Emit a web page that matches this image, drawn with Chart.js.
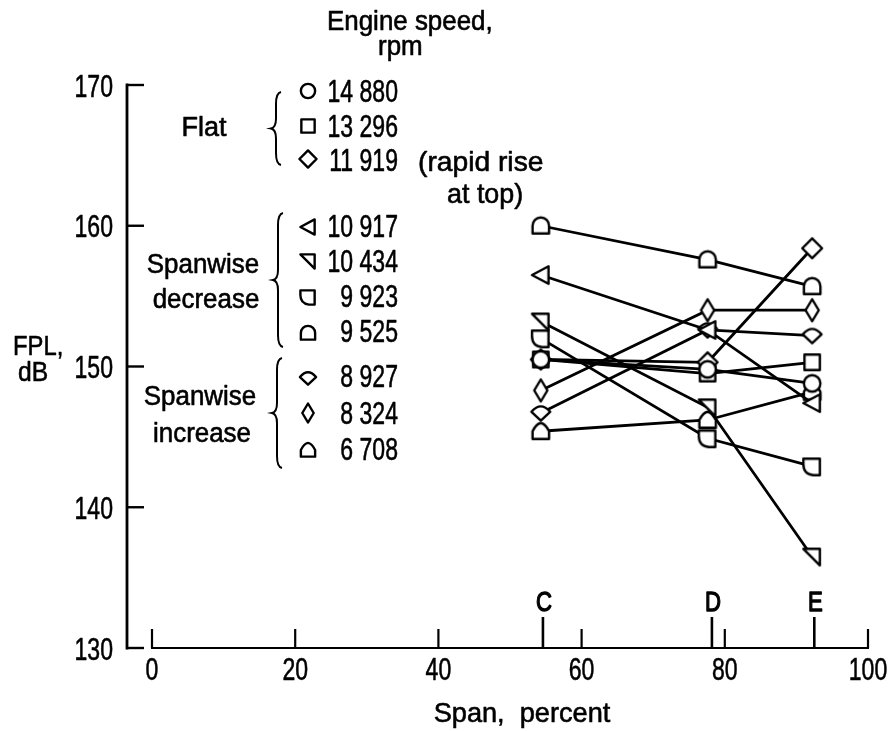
<!DOCTYPE html>
<html><head><meta charset="utf-8">
<script src="https://cdn.jsdelivr.net/npm/chart.js@4.4.1/dist/chart.umd.min.js"></script>
<style>html,body{margin:0;padding:0;background:#fff;}</style>
</head><body>
<canvas id="c" width="894" height="731" style="display:block;width:894px;height:731px"></canvas>
<script>
// ---- data ----
const stations = ['C', 'D', 'E'];
const stationSpan = [54.6, 78.2, 92.5];      // span position of station ticks, percent
const pointSpan = [54.3, 77.6, 92.2];        // span position of measurements, percent
const speeds = ['14 880', '13 296', '11 919', '10 917', '10 434', '9 923', '9 525', '8 927', '8 324', '6 708'];
const fpl_14880 = [150.5, 149.8, 148.8];
const fpl_13296 = [150.5, 149.5, 150.3];
const fpl_11919 = [150.5, 150.3, 158.4];
const fpl_10917 = [156.5, 152.6, 147.4];
const fpl_10434 = [153.2, 147.1, 136.5];
const fpl_9923  = [152.0, 144.9, 142.9];
const fpl_9525  = [160.0, 157.6, 155.7];
const fpl_8927  = [146.7, 152.6, 152.2];
const fpl_8324  = [148.3, 154.0, 154.0];
const fpl_6708  = [145.4, 146.2, 148.2];
const xTicks = [0, 20, 40, 60, 80, 100];
const yTicks = [130, 140, 150, 160, 170];
const groupLabels = [['Flat'], ['Spanwise', 'decrease'], ['Spanwise', 'increase']];
const xTitle = 'Span,  percent';
const yTitle = ['FPL,', 'dB'];
const legendTitle = ['Engine speed,', 'rpm'];
const note = ['(rapid rise', 'at top)'];

const series = [fpl_14880, fpl_13296, fpl_11919, fpl_10917, fpl_10434, fpl_9923, fpl_9525, fpl_8927, fpl_8324, fpl_6708];
const shapes = ['circle', 'square', 'diamond', 'triLeft', 'triCorner', 'quarter', 'arch', 'shield', 'tallDiamond', 'house'];
const drawOrder = [3, 4, 6, 1, 0, 5, 2, 7, 8, 9]; // lower number drawn on top

const FF = '"Liberation Sans","Arimo",Arial,sans-serif';

function txt(ctx, s, x, y, size, sx, align, sw) {
  ctx.save();
  ctx.font = size + 'px ' + FF;
  ctx.textAlign = align || 'left';
  ctx.textBaseline = 'alphabetic';
  ctx.translate(x, y);
  ctx.scale(sx, 1);
  ctx.fillStyle = '#000';
  ctx.fillText(s, 0, 0);
  ctx.lineWidth = sw || 0.6;
  ctx.strokeStyle = '#000';
  ctx.lineJoin = 'round';
  ctx.strokeText(s, 0, 0);
  ctx.restore();
}

function shapePath(ctx, kind, cx, cy, k) {
  const P = (dx, dy) => [cx + dx * k, cy + dy * k];
  ctx.beginPath();
  const m = (dx, dy) => ctx.moveTo(...P(dx, dy));
  const l = (dx, dy) => ctx.lineTo(...P(dx, dy));
  const q = (ax, ay, bx, by) => ctx.quadraticCurveTo(...P(ax, ay), ...P(bx, by));
  switch (kind) {
    case 'circle': ctx.arc(cx, cy, 7.5 * k, 0, Math.PI * 2); break;
    case 'square': m(-7, -7); l(7, -7); l(7, 7); l(-7, 7); ctx.closePath(); break;
    case 'diamond': m(0, -9); l(9, 0); l(0, 9); l(-9, 0); ctx.closePath(); break;
    case 'triLeft': m(-8, 0); l(7, -8); l(7, 8); ctx.closePath(); break;
    case 'triCorner': m(-8, -7); l(7, -7); l(7, 8); ctx.closePath(); break;
    case 'quarter': m(-8, -7); l(7, -7); l(7, 8); l(1, 8); q(-8, 7, -8, -2); ctx.closePath(); break;
    case 'arch': m(-7.5, 7); l(-7.5, 0); ctx.arc(cx, cy, 7.5 * k, Math.PI, 0); l(7.5, 7); ctx.closePath(); break;
    case 'shield': m(-8.5, -1); q(0, -11, 8.5, -1); l(0, 7); ctx.closePath(); break;
    case 'tallDiamond': m(0, -10); l(6, 0); l(0, 10); l(-6, 0); ctx.closePath(); break;
    case 'house': m(-7.5, 7); l(-7.5, 0); q(-4, -7, 0, -7.5); q(4, -7, 7.5, 0); l(7.5, 7); ctx.closePath(); break;
  }
}
function drawShape(ctx, kind, cx, cy, k) {
  ctx.save();
  shapePath(ctx, kind, cx, cy, k);
  ctx.fillStyle = '#fff'; ctx.fill();
  ctx.lineWidth = 2.4; ctx.strokeStyle = '#000'; ctx.lineJoin = 'round'; ctx.stroke();
  ctx.restore();
}
function makeMarker(kind) {
  const cv = document.createElement('canvas');
  cv.width = 30; cv.height = 30;
  drawShape(cv.getContext('2d'), kind, 15, 15, 1.1);
  return cv;
}

const datasets = series.map((vals, i) => ({
  label: speeds[i] + ' rpm',
  data: vals.map((v, j) => ({ x: pointSpan[j], y: v })),
  borderColor: '#000',
  borderWidth: 2.8,
  pointStyle: makeMarker(shapes[i]),
  pointRadius: 9,
  order: drawOrder[i],
  tension: 0,
  fill: false
}));

function brace(ctx, x, y0, y1) {
  const ym = (y0 + y1) / 2, w = 5;
  ctx.beginPath();
  ctx.moveTo(x + w, y0);
  ctx.quadraticCurveTo(x, y0 + 1, x, y0 + 12);
  ctx.lineTo(x, ym - 10);
  ctx.quadraticCurveTo(x, ym - 1, x - w, ym);
  ctx.quadraticCurveTo(x, ym + 1, x, ym + 10);
  ctx.lineTo(x, y1 - 12);
  ctx.quadraticCurveTo(x, y1 - 1, x + w, y1);
  ctx.stroke();
}

const decor = {
  id: 'decor',
  beforeDatasetsDraw(chart) {
    const ctx = chart.ctx, xs = chart.scales.x, ys = chart.scales.y;
    ctx.save();
    ctx.strokeStyle = '#000'; ctx.fillStyle = '#000';
    ctx.lineWidth = 2.8; ctx.lineCap = 'butt';
    // y axis with inward ticks and labels
    const yAxisX = 127;
    ctx.beginPath();
    ctx.moveTo(yAxisX, ys.getPixelForValue(170) - 1.4);
    ctx.lineTo(yAxisX, ys.getPixelForValue(130) + 1.4);
    ctx.stroke();
    ctx.lineWidth = 2.4;
    yTicks.forEach(v => {
      const y = ys.getPixelForValue(v);
      ctx.beginPath(); ctx.moveTo(yAxisX, y); ctx.lineTo(yAxisX + 17, y); ctx.stroke();
      txt(ctx, String(v), 113, y + 11.5, 32, 0.72, 'right');
    });
    // x axis with upward ticks and labels
    const yb = ys.getPixelForValue(130);
    ctx.lineWidth = 2.2;
    ctx.beginPath();
    ctx.moveTo(xs.getPixelForValue(0) - 1, yb); ctx.lineTo(xs.getPixelForValue(100) + 1, yb); ctx.stroke();
    xTicks.forEach(v => {
      const x = xs.getPixelForValue(v);
      ctx.beginPath(); ctx.moveTo(x, yb); ctx.lineTo(x, yb - 19); ctx.stroke();
      txt(ctx, String(v), x, 680, 32, 0.72, 'center');
    });
    // stations
    ctx.lineWidth = 2.6;
    stations.forEach((s, i) => {
      const x = xs.getPixelForValue(stationSpan[i]);
      ctx.beginPath(); ctx.moveTo(x, yb); ctx.lineTo(x, yb - 31); ctx.stroke();
      txt(ctx, s, x + 1, 611, 27, 0.82, 'center', 1.3);
    });
    // axis titles
    txt(ctx, xTitle, 522, 722, 28, 0.97, 'center');
    txt(ctx, yTitle[0], 13, 355, 28, 0.85, 'left');
    txt(ctx, yTitle[1], 18, 381, 28, 0.88, 'left');
    // legend title
    txt(ctx, legendTitle[0], 327, 30, 27, 0.96, 'left');
    txt(ctx, legendTitle[1], 378, 55, 27, 0.96, 'left');
    // group labels
    txt(ctx, groupLabels[0][0], 204, 136, 27, 1.0, 'center');
    txt(ctx, groupLabels[1][0], 203, 273, 27, 0.96, 'center');
    txt(ctx, groupLabels[1][1], 206, 308, 27, 0.96, 'center');
    txt(ctx, groupLabels[2][0], 200, 405, 27, 0.96, 'center');
    txt(ctx, groupLabels[2][1], 202, 442, 27, 0.96, 'center');
    // braces
    ctx.lineWidth = 2;
    brace(ctx, 276, 92, 165);
    brace(ctx, 278, 213, 347);
    brace(ctx, 277, 358, 468);
    // legend entries
    const symY = [91, 126, 159, 227, 261, 297, 333, 378, 413, 450];
    const txtY = [102, 137, 171, 237, 272, 307, 342, 387, 424, 460];
    speeds.forEach((s, i) => {
      drawShape(ctx, shapes[i], 308, symY[i], 0.95);
      txt(ctx, s, 398, txtY[i], 32, 0.72, 'right');
    });
    txt(ctx, note[0], 418, 171, 28.5, 0.99, 'left');
    txt(ctx, note[1], 447, 203, 28, 0.96, 'left');
    ctx.restore();
  }
};

new Chart(document.getElementById('c'), {
  type: 'line',
  data: { datasets },
  options: {
    responsive: false,
    animation: false,
    devicePixelRatio: 1,
    layout: { padding: { left: 0, right: 26, top: 85, bottom: 0 } },
    plugins: { legend: { display: false }, tooltip: { enabled: false }, title: { display: false } },
    scales: {
      x: {
        type: 'linear', min: 0, max: 100,
        afterBuildTicks: s => { s.ticks = xTicks.map(v => ({ value: v })); },
        afterFit: s => { s.height = 83; },
        grid: { display: false }, border: { display: false },
        ticks: { display: false }
      },
      y: {
        type: 'linear', min: 130, max: 170,
        afterBuildTicks: s => { s.ticks = yTicks.map(v => ({ value: v })); },
        afterFit: s => { s.width = 152; },
        grid: { display: false }, border: { display: false },
        ticks: { display: false }
      }
    }
  },
  plugins: [decor]
});
</script>
</body></html>
